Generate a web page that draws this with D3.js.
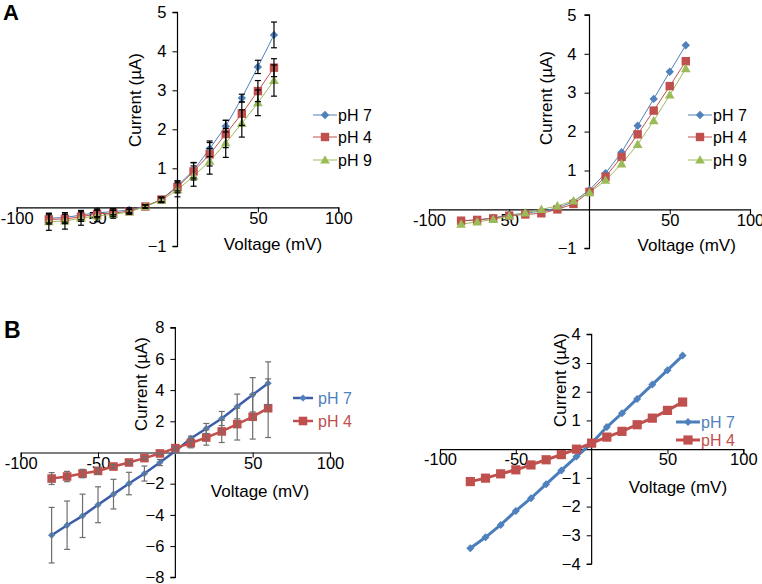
<!DOCTYPE html>
<html><head><meta charset="utf-8">
<script src="https://cdn.jsdelivr.net/npm/d3@7"></script>
<style>html,body{margin:0;padding:0;background:#fff;}svg{display:block;font-family:"Liberation Sans",Arial,sans-serif;}svg text{font-family:"Liberation Sans",Arial,sans-serif;}</style>
</head><body>
<svg id="c" width="762" height="584"></svg>
<script>
// ---------- data ----------
const voltage = [-80,-70,-60,-50,-40,-30,-20,-10,0,10,20,30,40,50,60];

// Panel A, left (mean ± error)
const aL_pH7 = [-0.28,-0.26,-0.20,-0.14,-0.11,-0.07,0.03,0.20,0.55,0.95,1.50,2.08,2.80,3.60,4.42];
const aL_pH4 = [-0.31,-0.30,-0.24,-0.17,-0.15,-0.10,0.02,0.20,0.52,0.92,1.36,1.88,2.40,2.98,3.58];
const aL_pH9 = [-0.37,-0.35,-0.28,-0.22,-0.18,-0.12,0.02,0.18,0.45,0.80,1.18,1.65,2.15,2.68,3.25];
const aL_err7 = [0.12,0.12,0.12,0.10,0.08,0.06,0.04,0.06,0.13,0.20,0.20,0.15,0.10,0.17,0.33];
const aL_err4 = [0.12,0.12,0.12,0.10,0.08,0.06,0.04,0.06,0.15,0.22,0.30,0.35,0.30,0.27,0.23];
const aL_err9 = [0.22,0.21,0.18,0.15,0.10,0.06,0.04,0.06,0.18,0.26,0.33,0.37,0.35,0.33,0.40];

// Panel A, right
const aR_pH7 = [-0.30,-0.27,-0.22,-0.14,-0.10,-0.04,0.03,0.20,0.50,0.93,1.47,2.15,2.84,3.54,4.22];
const aR_pH4 = [-0.29,-0.27,-0.23,-0.16,-0.13,-0.10,0.00,0.14,0.45,0.84,1.35,1.93,2.54,3.17,3.81];
const aR_pH9 = [-0.38,-0.32,-0.26,-0.17,-0.09,0.00,0.09,0.22,0.43,0.75,1.17,1.67,2.28,2.94,3.62];

// Panel B, left (mean ± error)
const bL_pH7 = [-5.30,-4.66,-4.06,-3.35,-2.67,-1.99,-1.35,-0.64,0.10,0.90,1.54,2.18,2.95,3.70,4.44];
const bL_pH4 = [-1.67,-1.54,-1.35,-1.18,-0.90,-0.64,-0.36,-0.06,0.28,0.60,0.96,1.35,1.82,2.29,2.84];
const bL_err7 = [1.78,1.55,1.39,1.15,0.95,0.72,0.48,0.20,0.10,0.15,0.32,0.45,0.79,1.10,1.37];
const bL_err4 = [0.38,0.33,0.27,0.20,0.12,0.10,0.08,0.06,0.10,0.30,0.49,0.71,1.02,1.43,1.88];

// Panel B, right
const bR_pH7 = [-3.45,-3.07,-2.64,-2.15,-1.71,-1.22,-0.74,-0.26,0.21,0.77,1.25,1.75,2.25,2.75,3.26];
const bR_pH4 = [-1.13,-1.01,-0.86,-0.72,-0.55,-0.37,-0.19,0.00,0.21,0.42,0.62,0.85,1.08,1.35,1.64];

// ticks
const xTicks = [-100,-50,50,100];
const xTickLabelsA = ["-100","50","50","100"];
const xTickLabelsB = ["-100","-50","50","100"];
const yTicksA = [-1,1,2,3,4,5];
const yTicksBL = [-8,-6,-4,-2,2,4,6,8];
const yTicksBR = [-4,-3,-2,-1,1,2,3,4];
const legendA = ["pH 7","pH 4","pH 9"];
const legendB = ["pH 7","pH 4"];

// ---------- drawing ----------
const svg = d3.select("#c");
const BLUE = "#4F81BD", RED = "#C0504D", GREEN = "#9BBB59";
const FONT = "Liberation Sans, Arial, sans-serif";
const TITLE_FS = 17;

function markerPath(type, r){
  if(type==="diamond") return `M0,${-r}L${r},0L0,${r}L${-r},0Z`;
  if(type==="square") return `M${-r},${-r}H${r}V${r}H${-r}Z`;
  return `M0,${-r*1.15}L${r*1.15},${r*0.85}L${-r*1.15},${r*0.85}Z`;
}

function panel(cfg){
  const g = svg.append("g");
  const x = d3.scaleLinear().domain([-100,100]).range(cfg.xr);
  const y = d3.scaleLinear().domain(cfg.yd).range(cfg.yr);
  const x0 = x(0), y0 = y(0);
  const ax = d3.axisBottom(x).tickValues(xTicks).tickSize(5).tickFormat((d,i)=>cfg.xLabels[i]);
  const gx = g.append("g").attr("transform",`translate(0,${y0})`).call(ax);
  gx.attr("font-family",FONT).attr("font-size",cfg.fs);
  gx.select(".domain").attr("stroke","#000").attr("stroke-width",1.2);
  gx.selectAll(".tick line").attr("stroke","#000");
  gx.selectAll(".tick text").attr("fill","#000").attr("dy",cfg.xdy);
  const ay = d3.axisLeft(y).tickValues(cfg.yTicks).tickSize(5).tickPadding(cfg.ypad).tickFormat(d3.format("d"));
  const gy = g.append("g").attr("transform",`translate(${x0},0)`).call(ay);
  gy.attr("font-family",FONT).attr("font-size",cfg.fs);
  gy.select(".domain").attr("stroke","#000").attr("stroke-width",1.2).attr("d",`M-5,${cfg.yr[0]}H0V${cfg.yr[1]}H-5`);
  gy.selectAll(".tick line").attr("stroke","#000");
  gy.selectAll(".tick text").attr("fill","#000");
  g.append("text").attr("transform",`translate(${cfg.ytx},${cfg.yty}) rotate(-90)`)
    .attr("text-anchor","middle").attr("dominant-baseline","central").attr("font-size",TITLE_FS).text("Current (µA)");
  g.append("text").attr("x",cfg.xtx).attr("y",cfg.xty).attr("text-anchor","middle")
    .attr("dominant-baseline","central").attr("font-size",TITLE_FS).text("Voltage (mV)");
  const line = d3.line().x((d,i)=>x(voltage[i])).y(d=>y(d));
  cfg.series.forEach(s=>{
    g.append("path").attr("d",line(s.values)).attr("fill","none")
      .attr("stroke",s.lineColor||s.color).attr("stroke-width",cfg.lw);
  });
  cfg.series.forEach(s=>{
    g.append("g").selectAll("path").data(s.values).join("path")
      .attr("transform",(d,i)=>`translate(${x(voltage[i])},${y(d)})`)
      .attr("d",markerPath(s.marker,s.r)).attr("fill",s.color);
  });
  cfg.series.forEach(s=>{
    if(!s.err) return;
    const eg = g.append("g").attr("stroke",cfg.errColor).attr("stroke-width",1.2);
    s.values.forEach((v,i)=>{
      const xx = x(voltage[i]), t = y(v+s.err[i]), b = y(v-s.err[i]);
      eg.append("line").attr("x1",xx).attr("x2",xx).attr("y1",t).attr("y2",b);
      eg.append("line").attr("x1",xx-3).attr("x2",xx+3).attr("y1",t).attr("y2",t);
      eg.append("line").attr("x1",xx-3).attr("x2",xx+3).attr("y1",b).attr("y2",b);
    });
  });
  cfg.series.forEach((s,i)=>{
    const ly = cfg.leg.ys[i];
    g.append("line").attr("x1",cfg.leg.x1).attr("x2",cfg.leg.x2).attr("y1",ly).attr("y2",ly)
      .attr("stroke",s.lineColor||s.color).attr("stroke-width",cfg.lw);
    g.append("path").attr("transform",`translate(${(cfg.leg.x1+cfg.leg.x2)/2},${ly})`)
      .attr("d",markerPath(s.marker,s.r)).attr("fill",s.color);
    g.append("text").attr("x",cfg.leg.tx).attr("y",ly).attr("dominant-baseline","central")
      .attr("font-size",cfg.legFs).attr("fill",cfg.legColored?s.color:"#000").text(s.name);
  });
}

// Panel A left
panel({xr:[16.7,338.3], yd:[-1,5], yr:[246.3,12.3], yTicks:yTicksA, xLabels:xTickLabelsA,
  fs:16.5, legFs:16, xdy:"0.5em", ypad:6, lw:1,
  ytx:135, yty:100, xtx:273, xty:244, errColor:"#000",
  series:[
    {name:legendA[0], values:aL_pH7, err:aL_err7, color:BLUE, marker:"diamond", r:4.2},
    {name:legendA[1], values:aL_pH4, err:aL_err4, color:RED, marker:"square", r:4.2},
    {name:legendA[2], values:aL_pH9, err:aL_err9, color:GREEN, marker:"triangle", r:4.2}],
  leg:{x1:313, x2:337, tx:338, ys:[115,137,160]}});

// Panel A right
panel({xr:[429,750], yd:[-1,5], yr:[248.3,14.9], yTicks:yTicksA, xLabels:xTickLabelsA,
  fs:16.5, legFs:16, xdy:"0.55em", ypad:8, lw:1,
  ytx:546.7, yty:98, xtx:686.7, xty:245, errColor:"#000",
  series:[
    {name:legendA[0], values:aR_pH7, color:BLUE, marker:"diamond", r:4.2},
    {name:legendA[1], values:aR_pH4, color:RED, marker:"square", r:4.2},
    {name:legendA[2], values:aR_pH9, color:GREEN, marker:"triangle", r:4.2}],
  leg:{x1:688, x2:712, tx:713, ys:[115,137,160]}});

svg.append("text").attr("x",3).attr("y",20).attr("font-size",22).attr("font-weight","bold").text("A");
svg.append("text").attr("x",4).attr("y",337.5).attr("font-size",23).attr("font-weight","bold").text("B");

// Panel B left
panel({xr:[20.7,330], yd:[-8,8], yr:[577.3,327.7], yTicks:yTicksBL, xLabels:xTickLabelsB,
  fs:16.5, legFs:16, xdy:"0.5em", ypad:6, lw:2.5,
  ytx:141.7, yty:384, xtx:260, xty:491, errColor:"#6e6e6e",
  series:[
    {name:legendB[0], values:bL_pH7, err:bL_err7, color:BLUE, lineColor:"#3C5DA8", marker:"diamond", r:3.6},
    {name:legendB[1], values:bL_pH4, err:bL_err4, color:RED, marker:"square", r:4.3}],
  leg:{x1:293, x2:313, tx:318, ys:[398,421]}, legColored:true});

// Panel B right
panel({xr:[440,743.3], yd:[-4,4], yr:[564,334.3], yTicks:yTicksBR, xLabels:xTickLabelsB,
  fs:16.5, legFs:16, xdy:"0.45em", ypad:6, lw:3,
  ytx:560, yty:380, xtx:678, xty:487, errColor:"#6e6e6e",
  series:[
    {name:legendB[0], values:bR_pH7, color:BLUE, lineColor:"#4A7EBB", marker:"diamond", r:4},
    {name:legendB[1], values:bR_pH4, color:RED, marker:"square", r:4.6}],
  leg:{x1:676, x2:700, tx:701, ys:[422,440]}, legColored:true});
</script>
</body></html>
